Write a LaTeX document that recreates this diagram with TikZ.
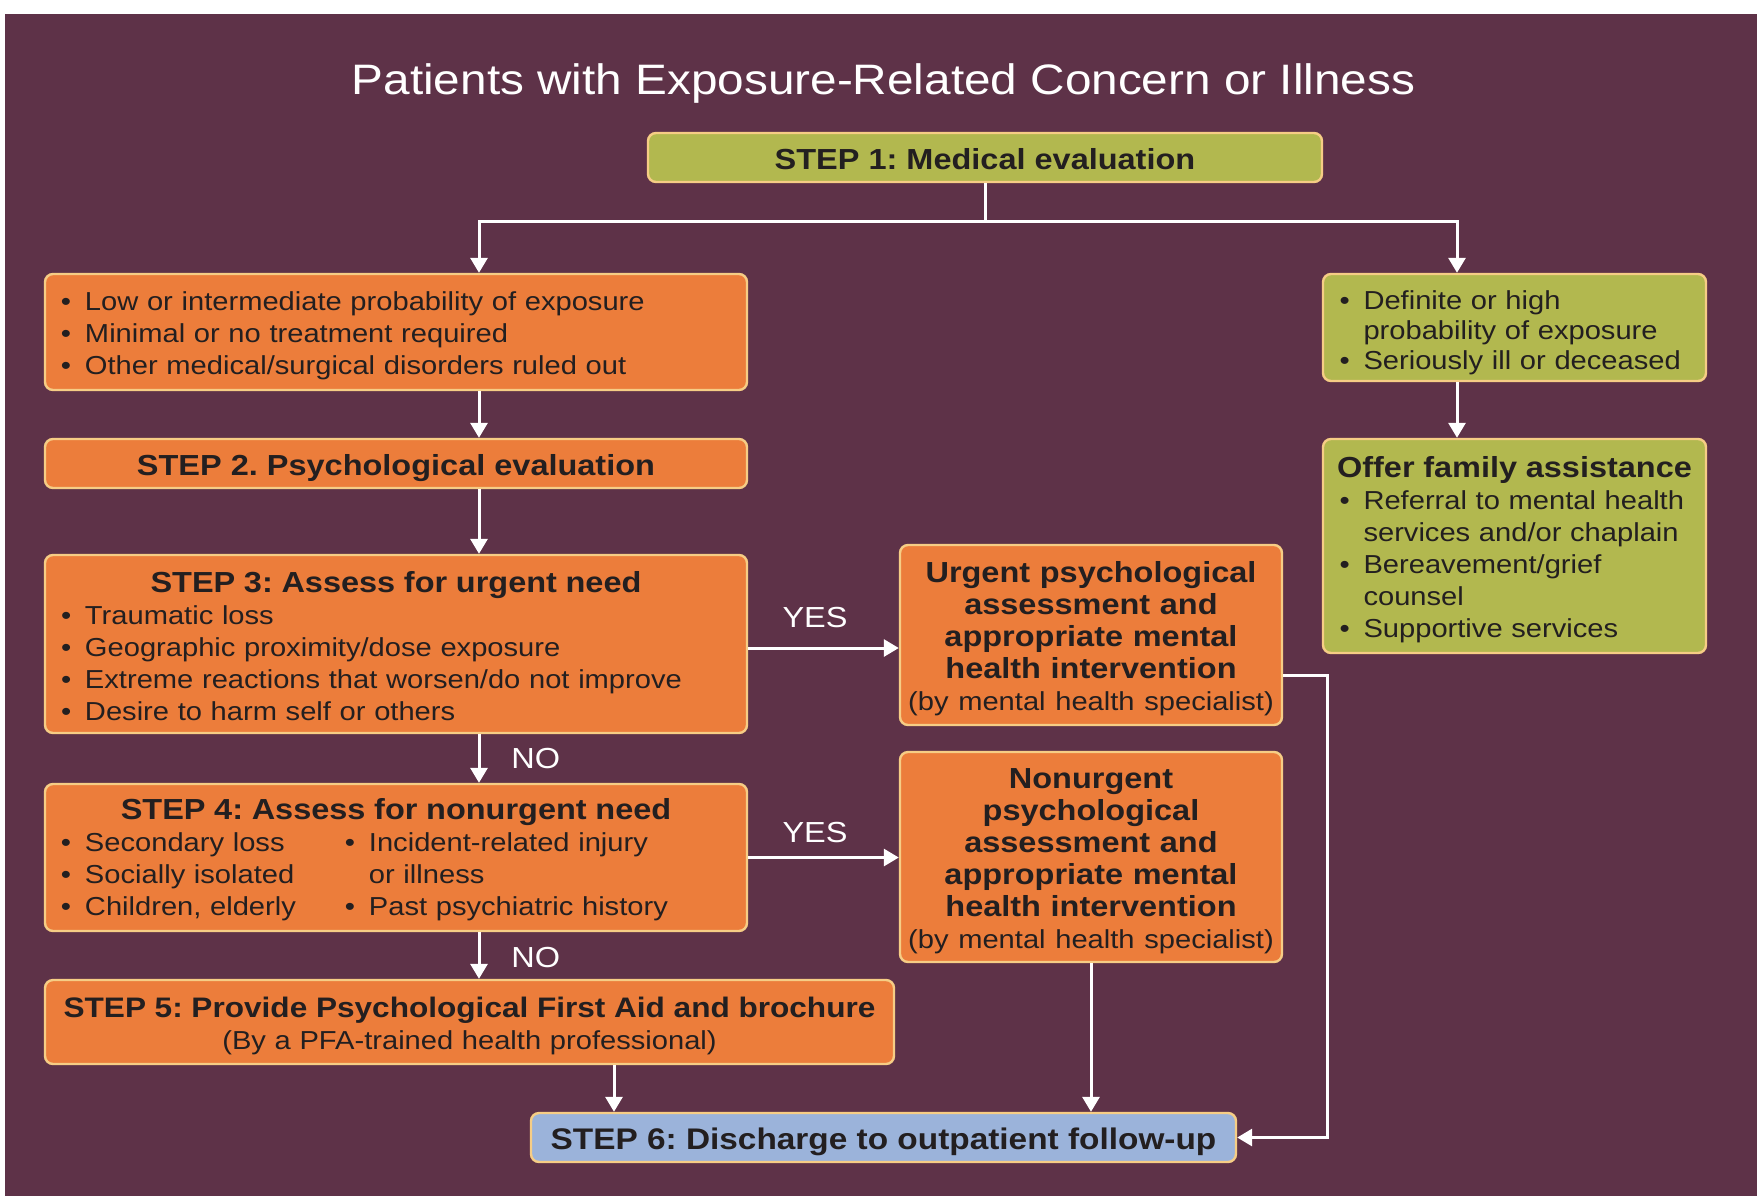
\documentclass[tikz,border=0pt]{standalone}
\usepackage{fontspec}
\setmainfont{Liberation Sans}[FakeStretch=1.12]
\usetikzlibrary{arrows.meta}
\definecolor{bgp}{HTML}{5E3248}
\definecolor{org}{HTML}{EC7D3B}
\definecolor{olv}{HTML}{B2B84F}
\definecolor{blu}{HTML}{9BB3DA}
\definecolor{edg}{HTML}{F6CD85}
\definecolor{txt}{HTML}{231F20}
\newcommand\hdf{\fontsize{14.5}{16}\selectfont\bfseries}
\newcommand\hd[1]{{\hdf #1}}
\newcommand\bl{\makebox[12pt][l]{\textbullet}}
\newcommand\bli{\hspace*{12pt}}
\frenchspacing
\begin{document}
\begin{tikzpicture}[x=0.5pt,y=-0.5pt,
  box/.style={draw=edg, line width=1.2pt, rounded corners=4pt, inner sep=0pt},
  obox/.style={box, fill=org},
  gbox/.style={box, fill=olv},
  bbox/.style={box, fill=blu},
  tx/.style={inner sep=0pt, text=txt, font=\fontsize{13}{16}\selectfont},
  ln/.style={draw=white, line width=1.5pt},
  arr/.style={ln, -{Triangle[width=8.5pt,length=7.5pt]}},
  lab/.style={text=white, font=\fontsize{14.5}{16}\selectfont, inner sep=0pt}
]
\useasboundingbox (0,0) rectangle (1761,1196);
\fill[white] (0,0) rectangle (1761,1196);
\fill[bgp] (5,14) rectangle (1757,1196);

\node[text=white, font=\fontsize{21.3}{26}\selectfont, anchor=base, inner sep=0pt] (title) at (883.5,94)
  {Patients with Exposure-Related Concern or Illness};

% boxes
\node[gbox, minimum width=337pt, minimum height=24.5pt] (S1) at (985,157.5) {};
\node[obox, minimum width=351pt, minimum height=58pt] (A) at (396,332) {};
\node[gbox, minimum width=191.5pt, minimum height=53.5pt] (B) at (1514.5,327.5) {};
\node[obox, minimum width=351pt, minimum height=24.5pt] (S2) at (396,463.5) {};
\node[gbox, minimum width=191.5pt, minimum height=107pt] (F) at (1514.5,546) {};
\node[obox, minimum width=351pt, minimum height=89pt] (S3) at (396,644) {};
\node[obox, minimum width=191pt, minimum height=90pt] (U) at (1091,635) {};
\node[obox, minimum width=351pt, minimum height=73.5pt] (S4) at (396,857.5) {};
\node[obox, minimum width=191pt, minimum height=105pt] (N) at (1091,857) {};
\node[obox, minimum width=424.5pt, minimum height=42pt] (S5) at (469.5,1022) {};
\node[bbox, minimum width=352.5pt, minimum height=24.5pt] (S6) at (883.5,1137.5) {};

% texts
\node[tx, font=\hdf] (S1t) at ([yshift=-0.6pt]S1.center) {STEP 1: Medical evaluation};

\node[tx, text width=335pt, align=left] (At) at ([yshift=-1.7pt]A.center)
  {\bl Low or intermediate probability of exposure\\
   \bl Minimal or no treatment required\\
   \bl Other medical/surgical disorders ruled out};

\node[tx, text width=175pt, align=left, font=\fontsize{13}{15}\selectfont] (Bt) at ([yshift=-2.5pt]B.center)
  {\bl Definite or high\\
   \bli probability of exposure\\
   \bl Seriously ill or deceased};

\node[tx, font=\hdf] (S2t) at ([yshift=-2.2pt]S2.center) {STEP 2. Psychological evaluation};

\node[tx, text width=175pt, align=left] (Ft) at ([yshift=-1.7pt]F.center)
  {\makebox[175pt][c]{\hd{Offer family assistance}}\\
   \bl Referral to mental health\\
   \bli services and/or chaplain\\
   \bl Bereavement/grief\\
   \bli counsel\\
   \bl Supportive services};

\node[tx, text width=335pt, align=left] (S3t) at ([yshift=-1.1pt]S3.center)
  {\makebox[335pt][c]{\hd{STEP 3: Assess for urgent need}}\\
   \bl Traumatic loss\\
   \bl Geographic proximity/dose exposure\\
   \bl Extreme reactions that worsen/do not improve\\
   \bl Desire to harm self or others};

\node[tx, text width=185pt, align=center, font=\hdf] (Ut) at ([yshift=-1.7pt]U.center)
  {Urgent psychological\\
   assessment and\\
   appropriate mental\\
   health intervention\\
   {\fontsize{13}{16}\selectfont\mdseries (by mental health specialist)}};

\node[tx, text width=335pt, align=left] (S4t) at ([yshift=-1.1pt]S4.center)
  {\makebox[335pt][c]{\hd{STEP 4: Assess for nonurgent need}}\\
   \makebox[142pt][l]{\bl Secondary loss}\bl Incident-related injury\\
   \makebox[142pt][l]{\bl Socially isolated}\bli or illness\\
   \makebox[142pt][l]{\bl Children, elderly}\bl Past psychiatric history};

\node[tx, text width=185pt, align=center, font=\hdf] (Nt) at ([yshift=-2.2pt]N.center)
  {Nonurgent\\
   psychological\\
   assessment and\\
   appropriate mental\\
   health intervention\\
   {\fontsize{13}{16}\selectfont\mdseries (by mental health specialist)}};

\node[tx, text width=420pt, align=center] (S5t) at ([yshift=-2pt]S5.center)
  {{\fontsize{14.1}{16}\selectfont\bfseries STEP 5: Provide Psychological First Aid and brochure}\\
   (By a PFA-trained health professional)};

\node[tx, font=\fontsize{14.9}{16}\selectfont\bfseries] (S6t) at ([yshift=-2.2pt]S6.center) {STEP 6: Discharge to outpatient follow-up};

% connector helpers
\coordinate (jn) at (985,221);
\coordinate (colL) at (479,221);
\coordinate (colR) at (1457,221);
\coordinate (colM) at (614,1100);
\coordinate (colRR) at (1327,675);

\draw[ln] (S1.south) -- (jn);
\draw[arr] (jn) -| (A.north -| colL);
\draw[arr] (jn) -| (B.north -| colR);
\draw[arr] (A.south -| colL) -- (S2.north -| colL);
\draw[arr] (S2.south -| colL) -- (S3.north -| colL);
\draw[arr] (S3.south -| colL) -- (S4.north -| colL);
\draw[arr] (S4.south -| colL) -- (S5.north -| colL);
\draw[arr] (B.south -| colR) -- (F.north -| colR);
\draw[arr] ([yshift=-2pt]S3.east) -- ([yshift=-2pt]S3.east -| U.west);
\draw[arr] (S4.east) -- (S4.east -| N.west);
\draw[arr] (U.east |- colRR) -- (colRR) |- (S6.east);
\draw[arr] (N.south) -- (N.south |- S6.north);
\draw[arr] (S5.south -| colM) -- (S6.north -| colM);

\node[lab] (yes1) at (815,618) {YES};
\node[lab] (yes2) at (815,832) {YES};
\node[lab, anchor=west] (no1) at (511,758) {NO};
\node[lab, anchor=west] (no2) at (511,957) {NO};
\end{tikzpicture}
\end{document}
